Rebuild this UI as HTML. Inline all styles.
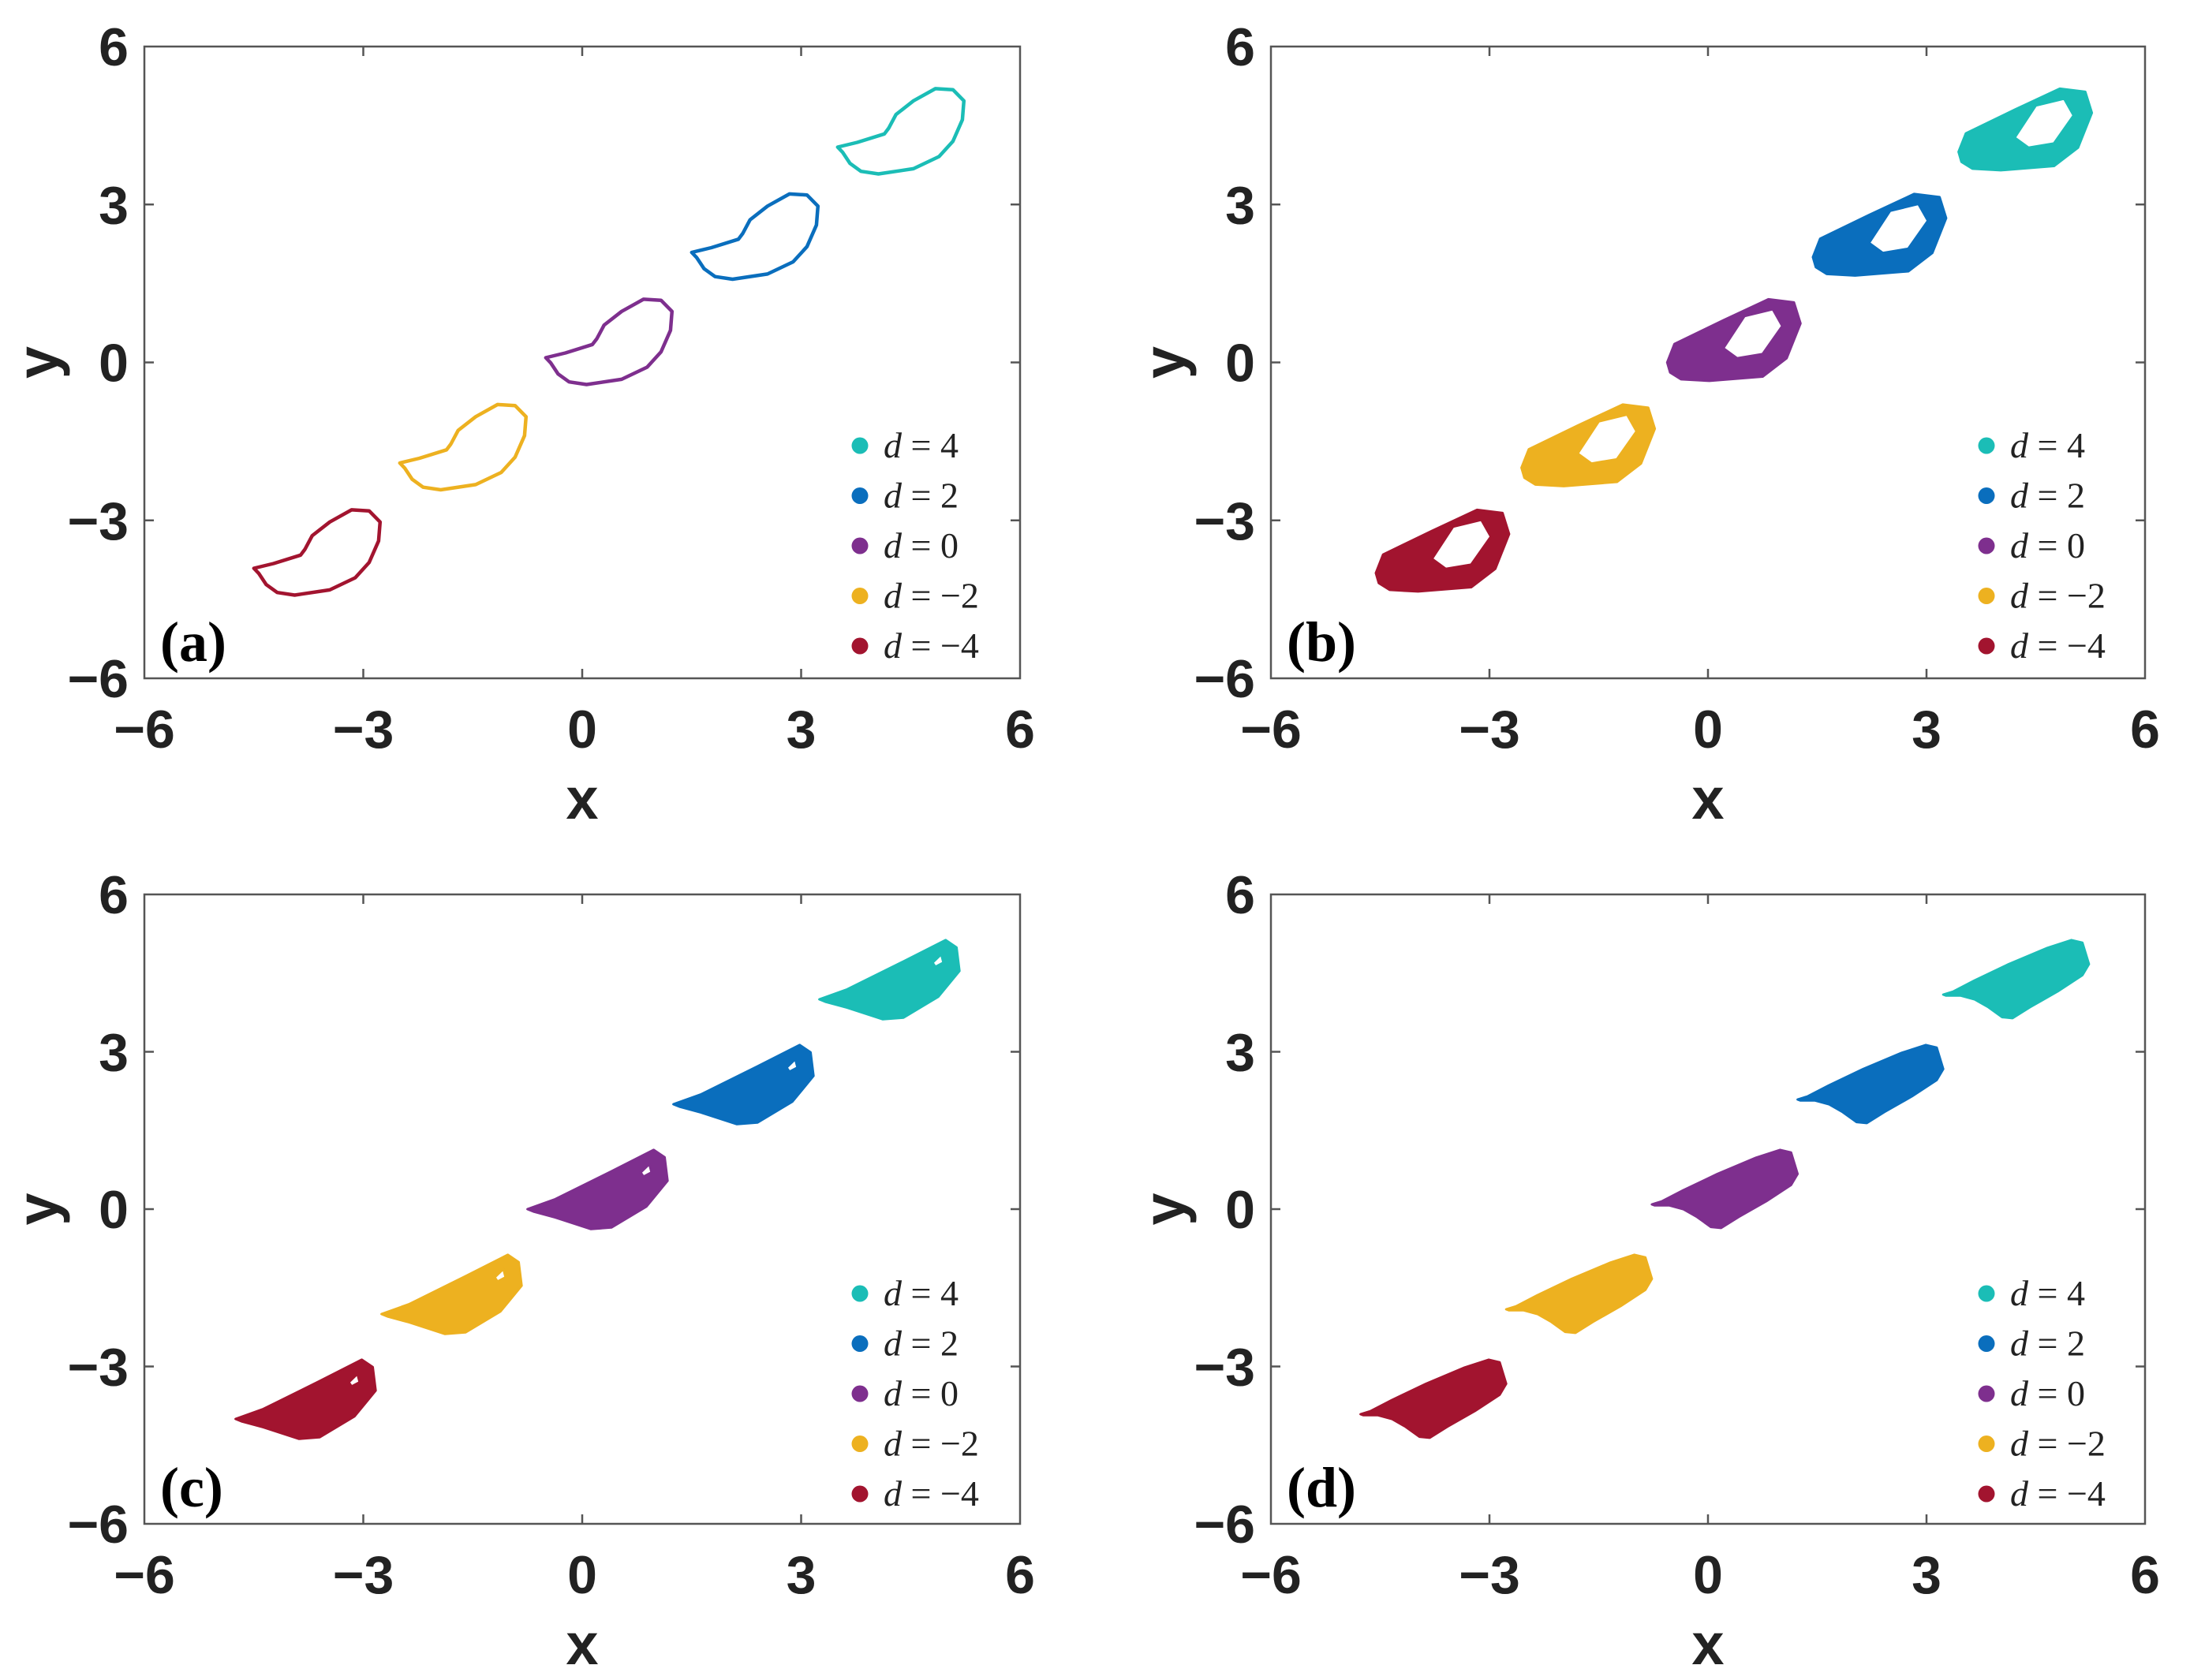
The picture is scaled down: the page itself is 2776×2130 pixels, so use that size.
<!DOCTYPE html>
<html><head><meta charset="utf-8"><style>
html,body{margin:0;padding:0;background:#fff;}
svg{display:block;}
.tick{font-family:"Liberation Sans Narrow","Liberation Sans",sans-serif;font-weight:bold;font-size:68px;fill:#222;}
.axl{font-family:"Liberation Sans","Liberation Sans Narrow",sans-serif;font-weight:bold;font-size:74px;fill:#222;}
.leg{font-family:"Liberation Serif",serif;font-size:46px;fill:#222;}
.plab{font-family:"Liberation Serif",serif;font-weight:bold;font-size:72px;fill:#000;}
</style></head><body>
<svg id="fig" width="2776" height="2130" viewBox="0 0 2776 2130" xmlns="http://www.w3.org/2000/svg"></svg>
<script>
// data
const dValues = [4, 2, 0, -2, -4];
const seriesColors = ['#1bbdb6', '#0a6ebd', '#7e2f8e', '#edb120', '#a2142f'];
const tickValues = [-6, -3, 0, 3, 6];
const tickLabels = ['\u22126', '\u22123', '0', '3', '6'];
const panelLabels = ['(a)', '(b)', '(c)', '(d)'];
// base attractor shapes (d = 0), shifted by (d, d)
const shapeAX = [-0.50,-0.23,0.14,0.20,0.30,0.54,0.84,1.08,1.23,1.21,1.08,0.89,0.54,0.06,-0.18,-0.33,-0.43];
const shapeAY = [0.09,0.18,0.34,0.45,0.71,0.97,1.20,1.18,0.97,0.61,0.20,-0.09,-0.32,-0.42,-0.37,-0.22,-0.01];
const shapeBX = [-0.56,-0.46,0.21,0.83,1.18,1.27,1.08,0.75,0.02,-0.37,-0.52];
const shapeBY = [0.00,0.35,0.80,1.20,1.14,0.74,0.08,-0.27,-0.35,-0.32,-0.19];
const holeBX = [0.21,0.50,0.89,1.02,0.75,0.40];
const holeBY = [0.27,0.88,1.01,0.69,0.16,0.08];
const shapeCX = [-0.75,-0.37,0.40,0.98,1.13,1.17,0.88,0.40,0.12,-0.37,-0.66];
const shapeCY = [0.00,0.19,0.72,1.13,0.99,0.54,0.05,-0.35,-0.38,-0.16,-0.05];
const holeCX = [0.80,0.92,0.95,0.84];
const holeCY = [0.70,0.86,0.70,0.62];
const shapeDX = [-0.77,-0.63,-0.34,0.13,0.66,0.99,1.14,1.23,1.14,0.80,0.42,0.18,0.04,-0.15,-0.34,-0.53,-0.73];
const shapeDY = [0.09,0.15,0.36,0.67,0.98,1.13,1.08,0.67,0.46,0.15,-0.15,-0.36,-0.34,-0.15,0.00,0.07,0.07];

const NS = 'http://www.w3.org/2000/svg';
const svg = document.getElementById('fig');
function mk(tag, attrs, parent) {
  const e = document.createElementNS(NS, tag);
  for (const k in attrs) e.setAttribute(k, attrs[k]);
  (parent || svg).appendChild(e);
  return e;
}
const panels = [
  {L:183, R:1293, T:59, B:860},
  {L:1611, R:2719, T:59, B:860},
  {L:183, R:1293, T:1134, B:1932},
  {L:1611, R:2719, T:1134, B:1932}
];
function polyPath(xs, ys, sx, sy, d) {
  let s = '';
  for (let i = 0; i < xs.length; i++) s += (i ? 'L' : 'M') + sx(xs[i] + d).toFixed(1) + ',' + sy(ys[i] + d).toFixed(1);
  return s + 'Z';
}
panels.forEach((p, pi) => {
  const g = mk('g', {});
  
  
  const sx = v => p.L + (v + 6) / 12 * (p.R - p.L);
  const sy = v => p.B - (v + 6) / 12 * (p.B - p.T);
  const box = mk('rect', {x:p.L, y:p.T, width:p.R-p.L, height:p.B-p.T, fill:'none', stroke:'#555', 'stroke-width':2.5}, g);
  
  
  tickValues.forEach((v, i) => {
    const x = sx(v), y = sy(v);
    if (i > 0 && i < tickValues.length - 1) {
      mk('line', {x1:x, y1:p.B, x2:x, y2:p.B-12, stroke:'#555', 'stroke-width':2.5}, g);
      mk('line', {x1:x, y1:p.T, x2:x, y2:p.T+12, stroke:'#555', 'stroke-width':2.5}, g);
      mk('line', {x1:p.L, y1:y, x2:p.L+12, y2:y, stroke:'#555', 'stroke-width':2.5}, g);
      mk('line', {x1:p.R, y1:y, x2:p.R-12, y2:y, stroke:'#555', 'stroke-width':2.5}, g);
    }
    const tx = mk('text', {x:x, y:p.B+88, 'text-anchor':'middle', class:'tick'}, g);
    tx.textContent = tickLabels[i];
    
    
    const ty = mk('text', {x:p.L-20, y:y+24, 'text-anchor':'end', class:'tick'}, g);
    ty.textContent = tickLabels[i];
    
    
  });
  const xl = mk('text', {x:(p.L+p.R)/2, y:p.B+178, 'text-anchor':'middle', class:'axl'}, g);
  xl.textContent = 'x';
  
  
  const yc = (p.T+p.B)/2, yx = p.L-110;
  const yl = mk('text', {x:yx, y:yc, 'text-anchor':'middle', class:'axl', transform:'rotate(-90 '+yx+' '+yc+')'}, g);
  yl.textContent = 'y';
  
  
  // series
  dValues.forEach((d, si) => {
    const col = seriesColors[si];
    let el;
    if (pi === 0) {
      el = mk('path', {d:polyPath(shapeAX, shapeAY, sx, sy, d), fill:'none', stroke:col, 'stroke-width':4.5, 'stroke-linejoin':'round'}, g);
    } else if (pi === 1) {
      el = mk('path', {d:polyPath(shapeBX, shapeBY, sx, sy, d) + polyPath(holeBX, holeBY, sx, sy, d), fill:col, 'fill-rule':'evenodd', stroke:col, 'stroke-width':3, 'stroke-linejoin':'round'}, g);
    } else if (pi === 2) {
      el = mk('path', {d:polyPath(shapeCX, shapeCY, sx, sy, d) + polyPath(holeCX, holeCY, sx, sy, d), fill:col, 'fill-rule':'evenodd', stroke:col, 'stroke-width':3, 'stroke-linejoin':'round'}, g);
    } else {
      el = mk('path', {d:polyPath(shapeDX, shapeDY, sx, sy, d), fill:col, stroke:col, 'stroke-width':3, 'stroke-linejoin':'round'}, g);
    }
    
    
    // legend
    const ly = p.T + 506 + si * 63.5;
    const lg = mk('g', {}, g);
    
    
    mk('circle', {cx:p.L+907, cy:ly, r:10.5, fill:col}, lg);
    const lt = mk('text', {x:p.L+937, y:ly+15, class:'leg'}, lg);
    const num = d < 0 ? '\u2212' + (-d) : String(d);
    lt.innerHTML = '<tspan font-style="italic">d</tspan> = ' + num;
  });
  const pl = mk('text', {x:p.L+20, y:p.B-22, class:'plab'}, g);
  pl.textContent = panelLabels[pi];
  
  
});
</script>
</body></html>
